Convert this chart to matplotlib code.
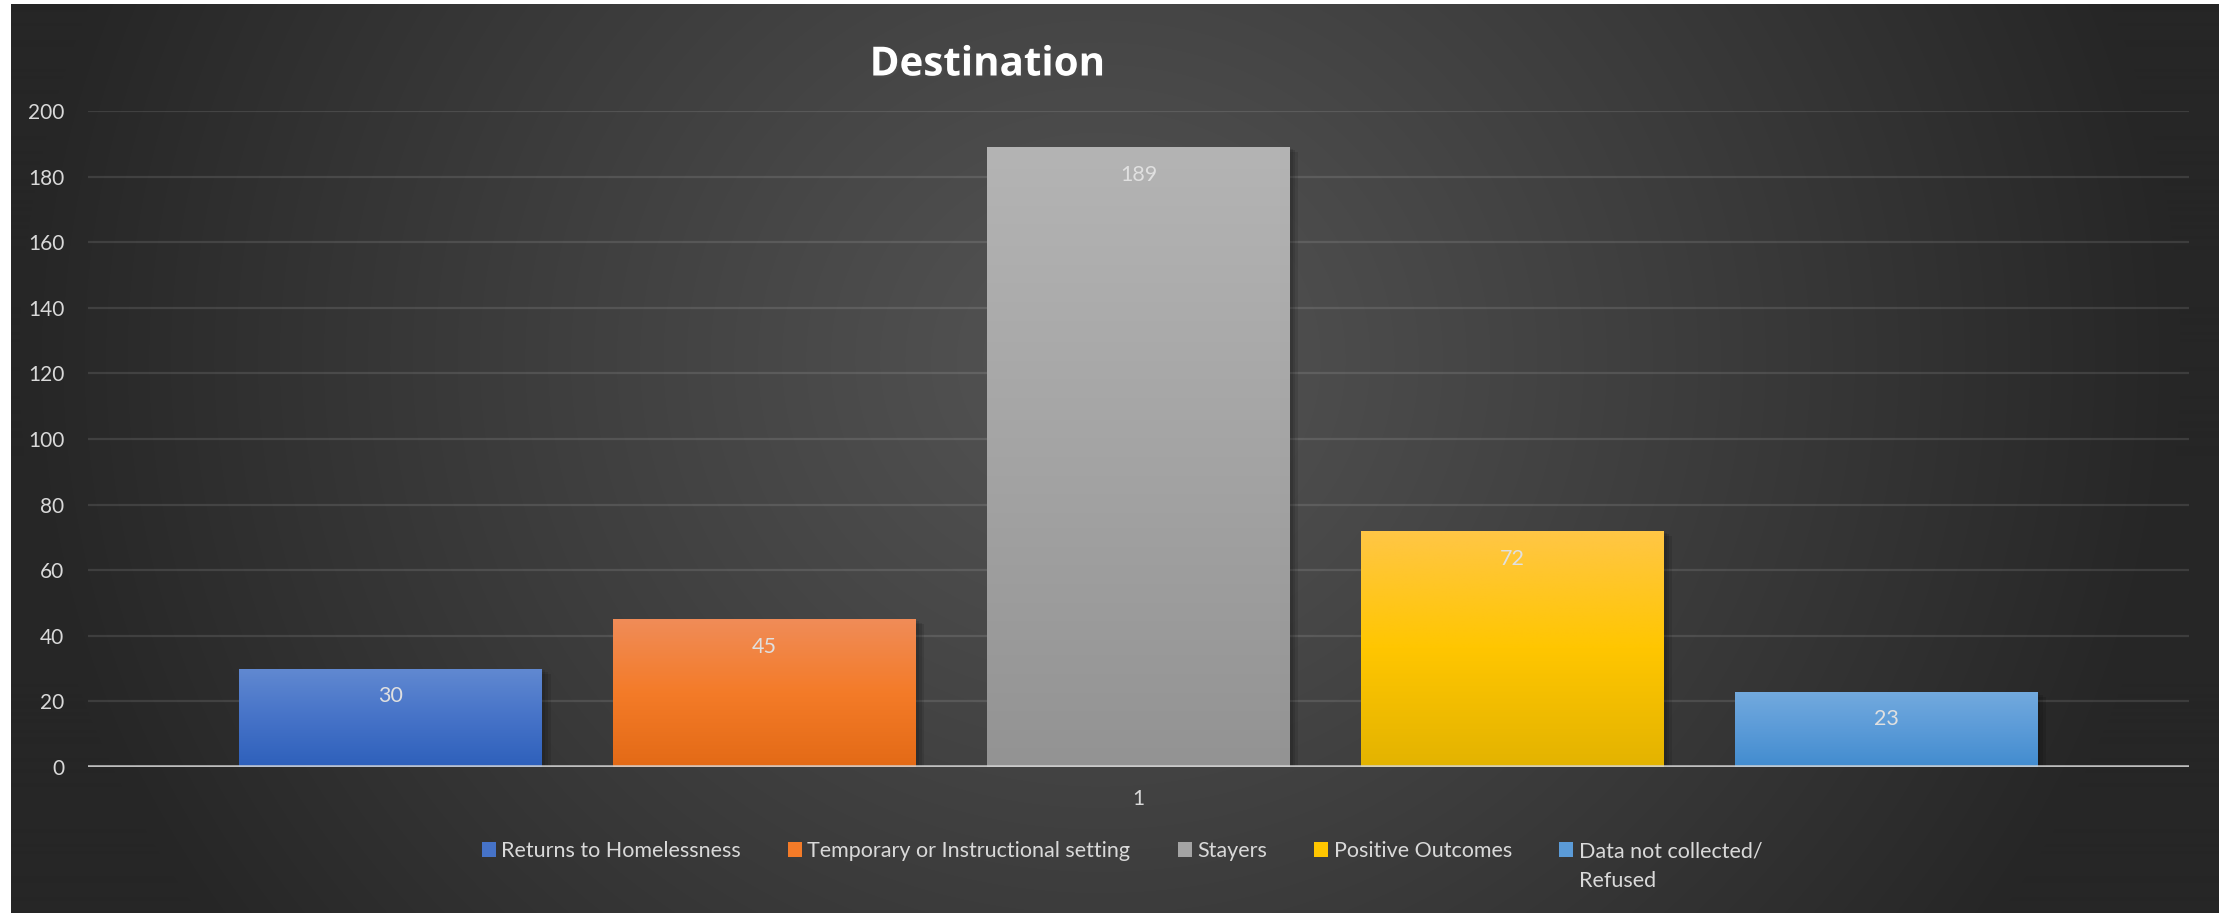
import numpy as np
import matplotlib.pyplot as plt
import matplotlib.patheffects as pe
from matplotlib.colors import to_rgb

categories = ["Returns to Homelessness", "Temporary or Instructional setting", "Stayers",
              "Positive Outcomes", "Data not collected/"]
last_label_tail = "Refused"
values = [30, 45, 189, 72, 23]
group_label = "1"
yticks = [0, 20, 40, 60, 80, 100, 120, 140, 160, 180, 200]

# top / middle / bottom of each bar's fill
bar_fills = [
    ("#6189d1", "#4673c8", "#2e60bb"),
    ("#f08c58", "#f47b28", "#e36a16"),
    ("#b4b4b4", "#a4a4a4", "#939393"),
    ("#ffc646", "#ffc600", "#e3b300"),
    ("#73aade", "#5b9bd8", "#428ccf"),
]

W, H = 2231, 913
fig = plt.figure(figsize=(W / 100, H / 100), dpi=100, facecolor="white")

# dark radial background panel
bg = fig.add_axes([11 / W, 0, (2219 - 11) / W, (H - 4) / H], zorder=-10)
gx, gy = np.meshgrid(np.arange(11, 2219), np.arange(4, H))
d = np.sqrt(((gx - 1100) / 1080.0) ** 2 + ((gy - 360) / 1000.0) ** 2)
d = np.clip(d, 0, 1)
shade = (84 - (84 - 38) * d ** 1.1) / 255.0
bg.imshow(np.dstack([shade] * 3), aspect="auto", extent=(0, 1, 0, 1), origin="upper")
bg.axis("off")

ax = fig.add_axes([88 / W, 146 / H, (2189 - 88) / W, (767 - 111) / H])
ax.patch.set_alpha(0)

n = len(values)
xpos = np.arange(n) - (n - 1) / 2
width = 0.81
bars = ax.bar(xpos, values, width=width, color=[f[1] for f in bar_fills], zorder=2)
soft_shadow = [pe.SimplePatchShadow(offset=(k, -k * 0.6), shadow_rgbFace="black", alpha=0.1)
               for k in (2, 4, 6)]
for b in bars:
    b.set_path_effects(soft_shadow + [pe.Normal()])

# vertical gradient on top of every bar
for b, (top, mid, bot) in zip(bars, bar_fills):
    t = np.linspace(0, 1, 200)[:, None]
    c0, c1, c2 = (np.array(to_rgb(c)) for c in (top, mid, bot))
    grad = np.where(t < 0.5, c0 + (c1 - c0) * (t / 0.5), c1 + (c2 - c1) * ((t - 0.5) / 0.5))
    grad = grad.reshape(200, 1, 3)
    x0 = b.get_x()
    im = ax.imshow(grad, extent=(x0, x0 + b.get_width(), 0, b.get_height()),
                   aspect="auto", origin="upper", zorder=3)
    im.set_clip_path(b)

for x, v in zip(xpos, values):
    ax.annotate(str(v), (x, v), xytext=(0, -20), textcoords="offset points",
                ha="center", va="center", fontsize=15.5, family="Lato",
                color="#e0e0e0", zorder=6)

ax.set_xlim(-2.81, 2.81)
ax.set_ylim(0, 200)
ax.set_yticks(yticks)
ax.set_xticks([0])
ax.set_xticklabels([group_label])
ax.tick_params(axis="y", length=0, pad=17, labelsize=15, labelcolor="#d9d9d9")
ax.tick_params(axis="x", length=0, pad=16, labelsize=15, labelcolor="#d9d9d9")
for lab in ax.get_xticklabels() + ax.get_yticklabels():
    lab.set_family("Lato")
for s in ax.spines.values():
    s.set_visible(False)
ax.yaxis.grid(True, color="white", alpha=0.11, linewidth=1.6)
ax.set_axisbelow(True)
ax.axhline(0, color="#d4d4d4", linewidth=2.6, alpha=0.85, zorder=5)

fig.text(987 / W, 1 - 65 / H, "Destination", ha="center", va="center",
         fontsize=29, fontweight="bold", family="Open Sans", color="white",
         path_effects=[pe.withSimplePatchShadow(offset=(1.5, -1.5), alpha=0.6)])

leg = fig.legend(handles=list(bars), labels=categories, loc="center",
                 bbox_to_anchor=(1122 / W, 1 - 851 / H), ncol=5, frameon=False,
                 prop={"family": "Lato", "size": 15.5}, labelcolor="#d9d9d9",
                 handlelength=0.65, handleheight=0.75, handletextpad=0.25,
                 columnspacing=2.2)
for h in leg.legend_handles:
    h.set_path_effects([])

# second line of the last legend entry
fig.canvas.draw()
last = leg.get_texts()[-1].get_window_extent()
fig.text(last.x0 / W, (last.y0 + last.y1) / 2 / H - 30 / H, last_label_tail,
         ha="left", va="center", family="Lato", fontsize=15.5, color="#d9d9d9")

fig.savefig("out.png", dpi=100)
